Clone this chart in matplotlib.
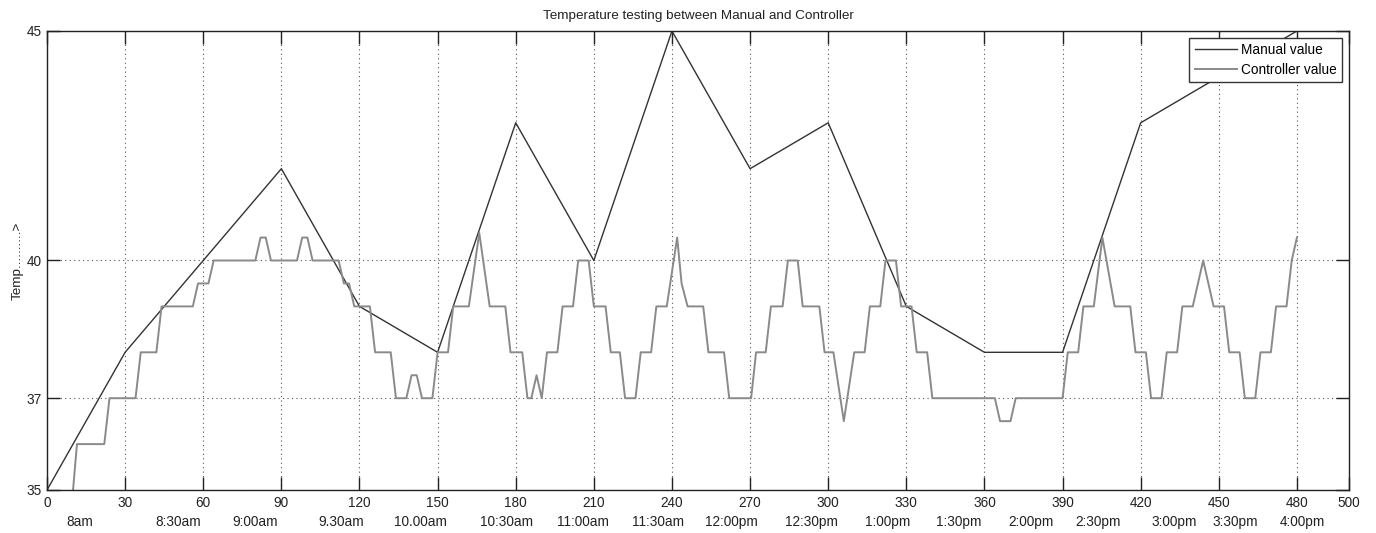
import matplotlib
matplotlib.use("Agg")
import matplotlib.pyplot as plt
import matplotlib.transforms as mtransforms
from matplotlib import font_manager

# manual readings, every 30 minutes
manual_time = [0, 30, 60, 90, 120, 150, 180, 210, 240, 270, 300, 330, 360, 390, 420, 450, 480]
manual_temp = [35, 38, 40, 42, 39, 38, 43, 40, 45, 42, 43, 39, 38, 38, 43, 44, 45]

# controller trace
controller_time = [10, 11.5, 22, 24, 34, 36, 42, 44, 56, 58, 62, 64, 80, 82, 84, 86, 96, 98, 100, 102,
                   112, 114, 116, 118, 124, 126, 132, 134, 138, 140, 142, 144, 148, 150, 154, 156,
                   162, 166, 170, 176, 178, 182.5, 184.5, 186, 188, 190, 192, 196, 198, 202, 204,
                   208, 210, 214.5, 216.5, 220, 222, 226, 228, 232, 234, 238, 242, 243.7, 246, 252,
                   254, 260, 262, 270.4, 272.3, 276, 278, 282.5, 284.5, 288.3, 290.2, 296.6, 298.6,
                   302, 306, 310, 314, 316, 320, 322, 326, 328, 332, 334, 338, 340, 364, 366, 370,
                   372, 390, 392, 396, 398, 402, 405.3, 410, 416, 418, 422, 424, 428, 430, 434, 436,
                   440, 444, 448, 452, 454, 458, 460, 464, 466, 470, 472, 476, 478, 480]
controller_temp = [35, 36, 36, 37, 37, 38, 38, 39, 39, 39.5, 39.5, 40, 40, 40.5, 40.5, 40, 40, 40.5, 40.5, 40,
                   40, 39.5, 39.5, 39, 39, 38, 38, 37, 37, 37.5, 37.5, 37, 37, 38, 38, 39,
                   39, 40.6, 39, 39, 38, 38, 37, 37, 37.5, 37, 38, 38, 39, 39, 40,
                   40, 39, 39, 38, 38, 37, 37, 38, 38, 39, 39, 40.5, 39.5, 39, 39,
                   38, 38, 37, 37, 38, 38, 39, 39, 40, 40, 39, 39, 38,
                   38, 36.5, 38, 38, 39, 39, 40, 40, 39, 39, 38, 38, 37, 37, 36.5, 36.5,
                   37, 37, 38, 38, 39, 39, 40.5, 39, 39, 38, 38, 37, 37, 38, 38, 39,
                   39, 40, 39, 39, 38, 38, 37, 37, 38, 38, 39, 39, 40, 40.5]

x_ticks = [0, 30, 60, 90, 120, 150, 180, 210, 240, 270, 300, 330, 360, 390, 420, 450, 480, 500]
y_ticks = [35, 37, 40, 45]

time_labels = ["8am", "8:30am", "9:00am", "9.30am", "10.00am", "10:30am", "11:00am", "11:30am",
               "12:00pm", "12:30pm", "1:00pm", "1:30pm", "2:00pm", "2:30pm", "3:00pm", "3:30pm", "4:00pm"]
time_label_x = [12.7, 50.4, 80, 113, 143.5, 176.5, 206, 234.6, 263, 293.5, 323, 350, 378, 403.8,
                433, 456.5, 482]

names = {f.name for f in font_manager.fontManager.ttflist}
if "Liberation Sans Narrow" in names:
    plt.rcParams["font.family"] = ["Liberation Sans Narrow", "DejaVu Sans"]
    fs_tick, fs_title, fs_leg = 12, 11.5, 12
else:
    plt.rcParams["font.family"] = ["Liberation Sans", "DejaVu Sans"]
    fs_tick, fs_title, fs_leg = 9.8, 9.7, 9.8

fig = plt.figure(figsize=(13.76, 5.33), dpi=100)
ax = fig.add_axes([47 / 1376, 1 - 490 / 533, 1302 / 1376, 459 / 533])

ax.plot(manual_time, manual_temp, color="#333333", lw=1.0, label="Manual value")
ax.plot(controller_time, controller_temp, color="#8a8a8a", lw=1.4, label="Controller value")

ax.set_xlim(0, 500)
ax.set_ylim(35, 45)
ax.set_xticks(x_ticks)
ax.set_yticks(y_ticks)
ax.tick_params(direction="in", length=9.5, width=1.0, top=True, right=True,
               labelsize=fs_tick, pad=4, colors="#222222")
ax.grid(True, linestyle=(0, (1, 3)), color="#555555", lw=0.8)
for s in ax.spines.values():
    s.set_color("#222222")
    s.set_linewidth(1.0)

ax.set_title("Temperature testing between Manual and Controller", fontsize=fs_title,
             color="#222222", pad=9)
ax.set_ylabel("Temp..........>", fontsize=fs_title, color="#222222")
ax.yaxis.set_label_coords(-0.018, 0.50)

trans = mtransforms.blended_transform_factory(ax.transData, fig.transFigure)
for lab, xp in zip(time_labels, time_label_x):
    ax.text(xp, 1 - 522 / 533, lab, transform=trans, ha="center", va="center",
            fontsize=fs_tick, color="#222222")

leg = ax.legend(loc="upper right", fontsize=fs_leg, fancybox=False, framealpha=1,
                edgecolor="#333333", borderaxespad=0.5, handlelength=3.1,
                handletextpad=0.3, borderpad=0.4, labelspacing=0.4)
leg.get_frame().set_linewidth(1.0)

fig.savefig("out.png", dpi=100)
